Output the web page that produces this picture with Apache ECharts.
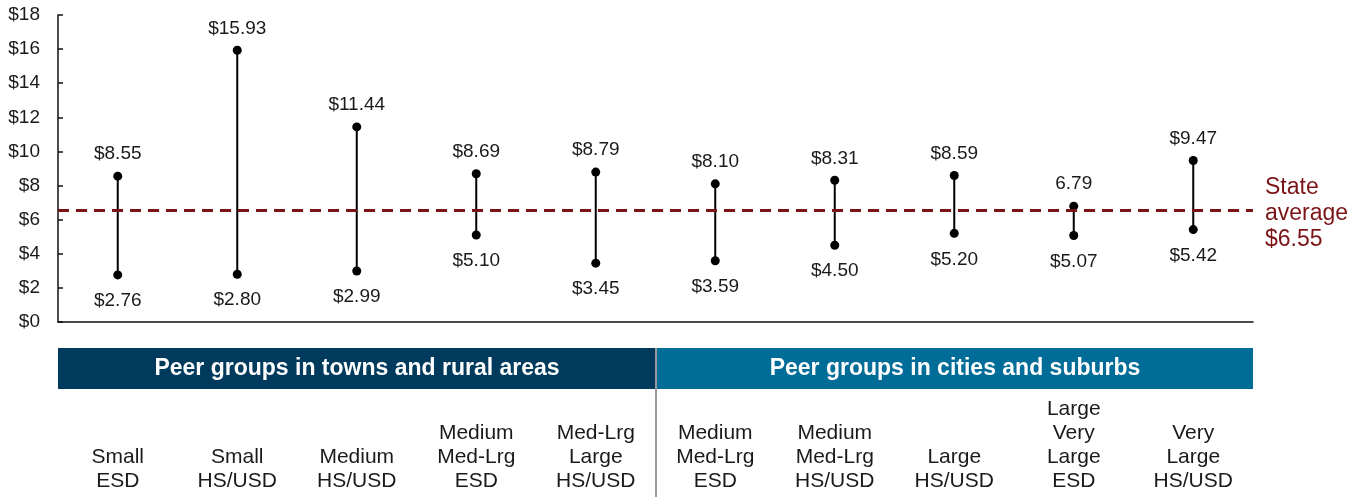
<!DOCTYPE html>
<html>
<head>
<meta charset="utf-8">
<script src="https://cdn.jsdelivr.net/npm/echarts@6/dist/echarts.min.js"></script>
<style>
  html, body { margin: 0; padding: 0; background: #fff; }
  #main { width: 1364px; height: 497px; }
</style>
</head>
<body>
<div id="main"></div>
<script>
// categories (peer groups), low / high cost per pupil
var categories = [
  "Small\nESD", "Small\nHS/USD", "Medium\nHS/USD", "Medium\nMed-Lrg\nESD", "Med-Lrg\nLarge\nHS/USD",
  "Medium\nMed-Lrg\nESD", "Medium\nMed-Lrg\nHS/USD", "Large\nHS/USD", "Large\nVery\nLarge\nESD", "Very\nLarge\nHS/USD"
];
var lowValues = [2.76, 2.80, 2.99, 5.10, 3.45, 3.59, 4.50, 5.20, 5.07, 5.42];
var highValues = [8.55, 15.93, 11.44, 8.69, 8.79, 8.10, 8.31, 8.59, 6.79, 9.47];
var highLabels = ["$8.55", "$15.93", "$11.44", "$8.69", "$8.79", "$8.10", "$8.31", "$8.59", "6.79", "$9.47"];
var stateAverage = 6.55;
var groupNames = ["Peer groups in towns and rural areas", "Peer groups in cities and suburbs"];

var FONT = "'Liberation Sans', Arial, Helvetica, sans-serif";
var TEXT = "#1a1a1a";
var chart = echarts.init(document.getElementById("main"));

var option = {
  animation: false,
  textStyle: { fontFamily: FONT },
  grid: { left: 58, right: 111, top: 15, bottom: 175, containLabel: false },
  xAxis: {
    type: "category",
    data: categories,
    boundaryGap: true,
    axisLine: { show: true, lineStyle: { color: "#111", width: 1.5 } },
    axisTick: { show: false },
    axisLabel: {
      interval: 0,
      margin: 171,
      verticalAlign: "bottom",
      align: "center",
      fontSize: 21,
      lineHeight: 24,
      color: TEXT,
      fontFamily: FONT
    }
  },
  yAxis: {
    type: "value",
    min: 0,
    max: 18,
    interval: 2,
    splitLine: { show: false },
    axisLine: { show: true, lineStyle: { color: "#111", width: 1.5 } },
    axisTick: { show: true, inside: true, length: 5, lineStyle: { color: "#111", width: 1.5 } },
    axisLabel: {
      margin: 18,
      fontSize: 19,
      color: TEXT,
      fontFamily: FONT,
      formatter: function (v) { return "$" + v; }
    }
  },
  series: [
    {
      // range line between low and high
      type: "custom",
      data: categories.map(function (c, i) { return [i, lowValues[i], highValues[i]]; }),
      renderItem: function (params, api) {
        var p1 = api.coord([api.value(0), api.value(1)]);
        var p2 = api.coord([api.value(0), api.value(2)]);
        return {
          type: "line",
          shape: { x1: p1[0], y1: p1[1], x2: p2[0], y2: p2[1] },
          style: { stroke: "#000", lineWidth: 2 }
        };
      },
      z: 2
    },
    {
      name: "High",
      type: "scatter",
      data: highValues,
      symbolSize: 9,
      itemStyle: { color: "#000", opacity: 1 },
      label: {
        show: true,
        position: "top",
        distance: 8,
        fontSize: 19,
        color: TEXT,
        fontFamily: FONT,
        formatter: function (p) { return highLabels[p.dataIndex]; }
      },
      z: 3,
      markLine: {
        silent: true,
        symbol: "none",
        lineStyle: { color: "#7b1416", type: [11, 7], width: 3 },
        label: {
          show: true,
          position: "end",
          distance: 12,
          align: "left",
          offset: [0, 3],
          formatter: "State\naverage\n$6.55",
          color: "#7b1416",
          fontSize: 23,
          lineHeight: 26,
          fontFamily: FONT
        },
        data: [{ yAxis: stateAverage }]
      }
    },
    {
      name: "Low",
      type: "scatter",
      data: lowValues,
      symbolSize: 9,
      itemStyle: { color: "#000", opacity: 1 },
      label: {
        show: true,
        position: "bottom",
        distance: 12,
        fontSize: 19,
        color: TEXT,
        fontFamily: FONT,
        formatter: function (p) { return "$" + p.value.toFixed(2); }
      },
      z: 3
    }
  ],
  graphic: [
    { type: "rect", shape: { x: 58, y: 348, width: 597, height: 41 }, style: { fill: "#003a5c" } },
    { type: "rect", shape: { x: 657, y: 348, width: 596, height: 41 }, style: { fill: "#006c98" } },
    { type: "line", shape: { x1: 656, y1: 348, x2: 656, y2: 497 }, style: { stroke: "#9a9a9a", lineWidth: 2 } },
    {
      type: "text", x: 357, y: 369,
      style: { text: groupNames[0], fill: "#fff", font: "bold 23px " + FONT, textAlign: "center", textVerticalAlign: "middle" }
    },
    {
      type: "text", x: 955, y: 369,
      style: { text: groupNames[1], fill: "#fff", font: "bold 23px " + FONT, textAlign: "center", textVerticalAlign: "middle" }
    }
  ]
};

chart.setOption(option);
</script>
</body>
</html>
